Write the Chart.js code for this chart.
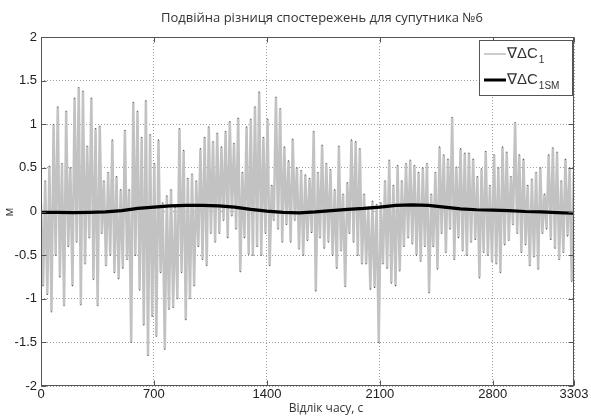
<!DOCTYPE html>
<html lang="uk">
<head>
    <meta charset="UTF-8">
    <title>Подвійна різниця спостережень для супутника №6</title>
    <style>
        body {
            margin: 0;
            padding: 0;
            background: #ffffff;
            overflow: hidden;
        }
        #wrap {
            position: relative;
            width: 591px;
            height: 417px;
        }
    </style>
</head>
<body>
    <div id="wrap"><canvas id="chart"></canvas></div>

    <script src="https://cdn.jsdelivr.net/npm/chart.js"></script>
    <script>
        // time axis ticks and limits (seconds)
        const xTicks = [0, 700, 1400, 2100, 2800, 3303];
        const xMax = 3303;

        // raw double difference: local maxima and minima,
        // one peak / trough pair every 26 s
        const rawStep = 13;
        const rawPeaks = [
            0.10, 0.35, 0.52, 1.00, 1.20, 0.55, 1.15, 0.50, 1.30, 1.42, 1.38, 0.75, 1.30, 0.95, 0.98, 0.35, 0.45, 0.82, 0.40, 0.25, 0.93, 0.25, 1.25, 1.15, 0.85, 1.27,
            0.88, 0.55, 0.82, 0.10, 0.18, 0.25, 0.05, 0.95, 0.70, 0.38, 0.43, 0.35, 0.72, 0.85, 0.97, 0.80, 0.90, 0.74, 0.92, 1.03, 0.78, 1.07, 0.45, 0.97, 1.06, 1.20,
            1.37, 0.85, 1.06, 0.30, 1.31, 1.18, 0.74, 0.58, 0.83, 0.50, 0.47, 0.42, 0.38, 0.92, 0.45, 0.76, 0.55, 0.48, 0.25, 0.75, 0.20, 0.33, 0.82, 0.80, 0.72,
            0.20, 0.05, 0.12, 0.08, 0.10, 0.35, 0.59, 0.30, 0.53, 0.35, 0.55, 0.59, 0.53, 0.45, 0.50, 0.55, 0.20, 0.45, 0.74, 0.65, 0.60, 1.08, 0.51, 0.72, 0.67, 0.67,
            0.60, 0.40, 0.49, 0.69, 0.30, 0.65, 0.50, 0.74, 0.68, 0.40, 1.02, 0.65, 0.60, 0.30, 0.37, 0.45, 0.50, 0.20, 0.65, 0.73, 0.68, 0.35, 0.60, 0.50, 0.45
        ];
        const rawTroughs = [
            -0.85, -0.95, -1.15, -0.50, -0.75, -1.08, -0.40, -0.85, -0.35, -1.07, -0.60, -0.30, -0.78, -1.08, -0.25, -0.62, -0.50, -0.70, -0.77, -0.65, -0.55, -1.50, -0.50, -0.90, -1.30, -1.65,
            -1.20, -1.43, -0.70, -1.58, -1.12, -1.10, -1.00, -0.70, -1.24, -1.00, -0.85, -0.40, -0.55, -0.62, -0.25, -0.35, -0.25, -0.10, -0.30, -0.05, -0.20, -0.69, -0.30, -0.49, -0.50, -0.40,
            -0.50, -0.25, -0.62, -0.10, -0.20, -0.35, -0.15, -0.35, -0.10, -0.43, -0.50, -0.33, -0.24, -0.91, -0.30, -0.42, -0.35, -0.50, -0.65, -0.45, -0.86, -0.25, -0.35, -0.50, -0.60,
            -0.60, -0.89, -0.87, -1.50, -0.60, -0.65, -0.82, -0.85, -0.68, -0.40, -0.30, -0.37, -0.50, -0.57, -0.40, -0.93, -0.40, -0.66, -0.25, -0.47, -0.20, -0.55, -0.30, -0.45, -0.50, -0.35,
            -0.32, -0.76, -0.47, -0.50, -0.57, -0.60, -0.70, -0.38, -0.33, -0.15, -0.25, -0.47, -0.38, -0.62, -0.52, -0.66, -0.25, -0.20, -0.32, -0.42, -0.55, -0.47, -0.28, -0.80
        ];

        // smoothed series, one value every 100 s, last one at 3303
        const smoothStep = 100;
        const smoothValues = [
            -0.010, -0.010, -0.012, -0.010, -0.005, 0.010, 0.035, 0.050, 0.065, 0.070, 0.070, 0.065,
            0.050, 0.025, 0.005, -0.010, -0.015, -0.005, 0.010, 0.025, 0.035, 0.050, 0.070, 0.077,
            0.070, 0.050, 0.030, 0.020, 0.015, 0.010, 0.000, -0.005, -0.012, -0.020, -0.025
        ];

        // build the x/y points for Chart.js
        const rawPoints = [];
        rawPeaks.forEach((p, k) => {
            rawPoints.push({ x: 2 * k * rawStep, y: p });
            if (k < rawTroughs.length) {
                rawPoints.push({ x: (2 * k + 1) * rawStep, y: rawTroughs[k] });
            }
        });
        const smoothPoints = smoothValues.map((v, i) => ({ x: Math.min(i * smoothStep, xMax), y: v }));

        const tickFont = { family: '"Liberation Sans", Arial, sans-serif', size: 13 };

        // box round the axes, with MATLAB-like inward ticks
        const framePlugin = {
            id: 'frame',
            afterDatasetsDraw(chart) {
                const { ctx, chartArea: a, scales } = chart;
                const l = Math.round(a.left) + 0.5, r = Math.round(a.right) - 0.5;
                const t = Math.round(a.top) + 0.5, b = Math.round(a.bottom) - 0.5;
                ctx.save();
                ctx.strokeStyle = '#555';
                ctx.lineWidth = 1;
                ctx.strokeRect(l, t, r - l, b - t);
                ctx.beginPath();
                xTicks.forEach(v => {
                    const px = Math.round(scales.x.getPixelForValue(v)) + 0.5;
                    ctx.moveTo(px, b); ctx.lineTo(px, b - 5);
                    ctx.moveTo(px, t); ctx.lineTo(px, t + 5);
                });
                scales.y.ticks.forEach(tk => {
                    const py = Math.round(scales.y.getPixelForValue(tk.value)) + 0.5;
                    ctx.moveTo(l, py); ctx.lineTo(l + 5, py);
                    ctx.moveTo(r, py); ctx.lineTo(r - 5, py);
                });
                ctx.stroke();
                ctx.restore();
            }
        };

        // legend box in the upper right corner, with subscripts
        const legendPlugin = {
            id: 'boxLegend',
            afterDraw(chart) {
                const ctx = chart.ctx;
                const bx = 479.5, by = 40.5, bw = 93, bh = 55;
                const entries = [
                    { sub: '1', color: '#9a9a9a', width: 1, y: 54 },
                    { sub: '1SM', color: '#000000', width: 3, y: 80 }
                ];
                ctx.save();
                ctx.fillStyle = '#ffffff';
                ctx.fillRect(bx, by, bw, bh);
                ctx.strokeStyle = '#555';
                ctx.lineWidth = 1;
                ctx.strokeRect(bx, by, bw, bh);
                entries.forEach(e => {
                    ctx.strokeStyle = e.color;
                    ctx.lineWidth = e.width;
                    ctx.beginPath();
                    ctx.moveTo(484, e.y);
                    ctx.lineTo(506, e.y);
                    ctx.stroke();
                    ctx.fillStyle = '#333';
                    ctx.textBaseline = 'middle';
                    ctx.textAlign = 'left';
                    ctx.font = '15px "Liberation Sans", Arial, sans-serif';
                    ctx.fillText('∇ΔC', 507, e.y);
                    const w = ctx.measureText('∇ΔC').width;
                    ctx.font = '10px "Liberation Sans", Arial, sans-serif';
                    ctx.fillText(e.sub, 507 + w + 1, e.y + 6);
                });
                ctx.restore();
            }
        };

        // title and axis labels
        const labelsPlugin = {
            id: 'labels',
            afterDraw(chart) {
                const ctx = chart.ctx;
                ctx.save();
                ctx.fillStyle = '#333';
                ctx.textAlign = 'center';
                ctx.textBaseline = 'middle';
                ctx.font = '13px "Open Sans", sans-serif';
                ctx.fillText('Подвійна різниця спостережень для супутника №6', 322, 18);
                ctx.font = '12px "Open Sans", sans-serif';
                ctx.fillText('Відлік часу, с', 326, 409);
                ctx.translate(10, 212);
                ctx.rotate(-Math.PI / 2);
                ctx.fillText('м', 0, 0);
                ctx.restore();
            }
        };

        new Chart(document.getElementById('chart'), {
            type: 'line',
            data: {
                datasets: [
                    {
                        label: '∇ΔC1SM',
                        data: smoothPoints,
                        borderColor: '#000000',
                        borderWidth: 3.2,
                        pointRadius: 0,
                        tension: 0,
                        order: 0
                    },
                    {
                        label: '∇ΔC1',
                        data: rawPoints,
                        borderColor: '#c2c2c2',
                        borderWidth: 2.5,
                        pointRadius: 0.6,
                        pointBorderWidth: 0,
                        pointBackgroundColor: '#4a4a72',
                        tension: 0,
                        order: 1
                    }
                ]
            },
            options: {
                responsive: true,
                maintainAspectRatio: false,
                animation: false,
                layout: { padding: { top: 37, right: 17, left: 0, bottom: 0 } },
                plugins: {
                    legend: { display: false },
                    title: { display: false },
                    tooltip: { enabled: false }
                },
                scales: {
                    x: {
                        type: 'linear',
                        min: 0,
                        max: xMax,
                        afterBuildTicks: scale => {
                            scale.ticks = xTicks.map(v => ({ value: v }));
                        },
                        afterFit: scale => { scale.height = 31; },
                        ticks: {
                            color: '#222', font: tickFont, padding: 1, maxRotation: 0, autoSkip: false,
                            callback: v => String(v)
                        },
                        grid: { color: '#a0a0a0', lineWidth: 1, drawTicks: false },
                        border: { display: false, dash: [1, 2] }
                    },
                    y: {
                        min: -2,
                        max: 2,
                        ticks: {
                            stepSize: 0.5, color: '#222', font: tickFont, padding: 4,
                            callback: v => String(v)
                        },
                        afterFit: scale => { scale.width = 41; },
                        grid: { color: '#a0a0a0', lineWidth: 1, drawTicks: false },
                        border: { display: false, dash: [1, 2] }
                    }
                }
            },
            plugins: [framePlugin, legendPlugin, labelsPlugin]
        });
    </script>
</body>
</html>
